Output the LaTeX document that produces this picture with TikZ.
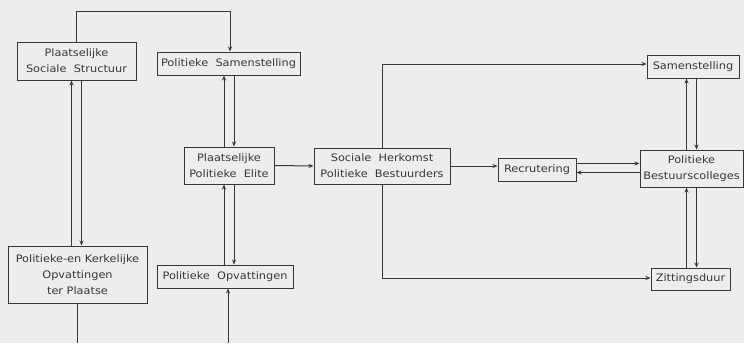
\documentclass[tikz,border=0pt]{standalone}
\usepackage{fontspec}
\setmainfont{DejaVu Sans}[FakeStretch=1.1]
\usepackage{tikz}
\usetikzlibrary{arrows.meta}
\definecolor{papier}{RGB}{237,237,235}
\definecolor{inkt}{RGB}{55,55,55}
\tikzset{
  blok/.style={draw=inkt, rectangle, line width=1pt, align=center, inner sep=1pt,
    font=\fontsize{10.3}{16}\selectfont, text=inkt},
  lijn/.style={draw=inkt, line width=1pt}
}

\begin{document}
\begin{tikzpicture}[>={Stealth[length=5pt, width=4pt]}, x=1pt, y=-1pt]
        \fill [papier] (0,0) rectangle (744,343);
        \useasboundingbox (0,0) rectangle (744,343);
        \begin{scope}
            % lokale kant
            \node [blok, minimum width=119, minimum height=38] (pss) at (76.5,61) {Plaatselijke\\Sociale\ \ Structuur};
            \node [blok, minimum width=139, minimum height=57] (pko) at (77.5,274.5) {Politieke-en Kerkelijke\\Opvattingen\\ter Plaatse};
            \node [blok, minimum width=143, minimum height=23] (polsam) at (228.5,63.5) {Politieke\ \ Samenstelling};
            \node [blok, minimum width=90, minimum height=37] (ppe) at (229,165.5) {Plaatselijke\\Politieke\ \ Elite};
            \node [blok, minimum width=136, minimum height=23] (polopv) at (225,276.5) {Politieke\ \ Opvattingen};
            % bestuurders
            \node [blok, minimum width=136, minimum height=36] (shpb) at (382,166) {Sociale\ \ Herkomst\\Politieke\ \ Bestuurders};
            \node [blok, minimum width=78, minimum height=23] (recr) at (537,169.5) {Recrutering};
            \node [blok, minimum width=92, minimum height=23] (sam) at (693,66.5) {Samenstelling};
            \node [blok, minimum width=103, minimum height=37] (pbc) at (691.5,168.5) {Politieke\\Bestuurscolleges};
            \node [blok, minimum width=79, minimum height=22] (zit) at (690.5,279) {Zittingsduur};
            \coordinate (onderl) at (77.5,343);
            \coordinate (onderr) at (228,343);

            \draw [->, lijn] (pss.north) -- (pss.north |- 0,11) -| ([xshift=1.5]polsam.north);
            \draw [->, lijn] ([xshift=-5]pss.south |- pko.north) -- ([xshift=-5]pss.south);
            \draw [->, lijn] ([xshift=5]pss.south) -- ([xshift=5]pss.south |- pko.north);
            \draw [lijn] (pko.south) -- (onderl);
            \draw [->, lijn] ([xshift=-5]ppe.north) -- ([xshift=-5]ppe.north |- polsam.south);
            \draw [->, lijn] ([xshift=5]ppe.north |- polsam.south) -- ([xshift=5]ppe.north);
            \draw [->, lijn] ([xshift=-5]ppe.south |- polopv.north) -- ([xshift=-5]ppe.south);
            \draw [->, lijn] ([xshift=5]ppe.south) -- ([xshift=5]ppe.south |- polopv.north);
            \draw [->, lijn] (onderr) -- (onderr |- polopv.south);
            \draw [->, lijn] (ppe.east) -- (shpb.west);
            \draw [->, lijn] (shpb.east) -- (shpb.east -| recr.west);
            \draw [->, lijn] (shpb.north) |- ([yshift=2.5]sam.west);
            \draw [->, lijn] (shpb.south) |- ([yshift=1]zit.west);
            \draw [->, lijn] ([yshift=5]pbc.west -| recr.east) -- ([yshift=5]pbc.west);
            \draw [->, lijn] ([yshift=-4]pbc.west) -- ([yshift=-4]pbc.west -| recr.east);
            \draw [->, lijn] ([xshift=-5]pbc.north) -- ([xshift=-5]pbc.north |- sam.south);
            \draw [->, lijn] ([xshift=5]pbc.north |- sam.south) -- ([xshift=5]pbc.north);
            \draw [->, lijn] ([xshift=-5]pbc.south |- zit.north) -- ([xshift=-5]pbc.south);
            \draw [->, lijn] ([xshift=5]pbc.south) -- ([xshift=5]pbc.south |- zit.north);
        \end{scope}

    \end{tikzpicture}
\end{document}
